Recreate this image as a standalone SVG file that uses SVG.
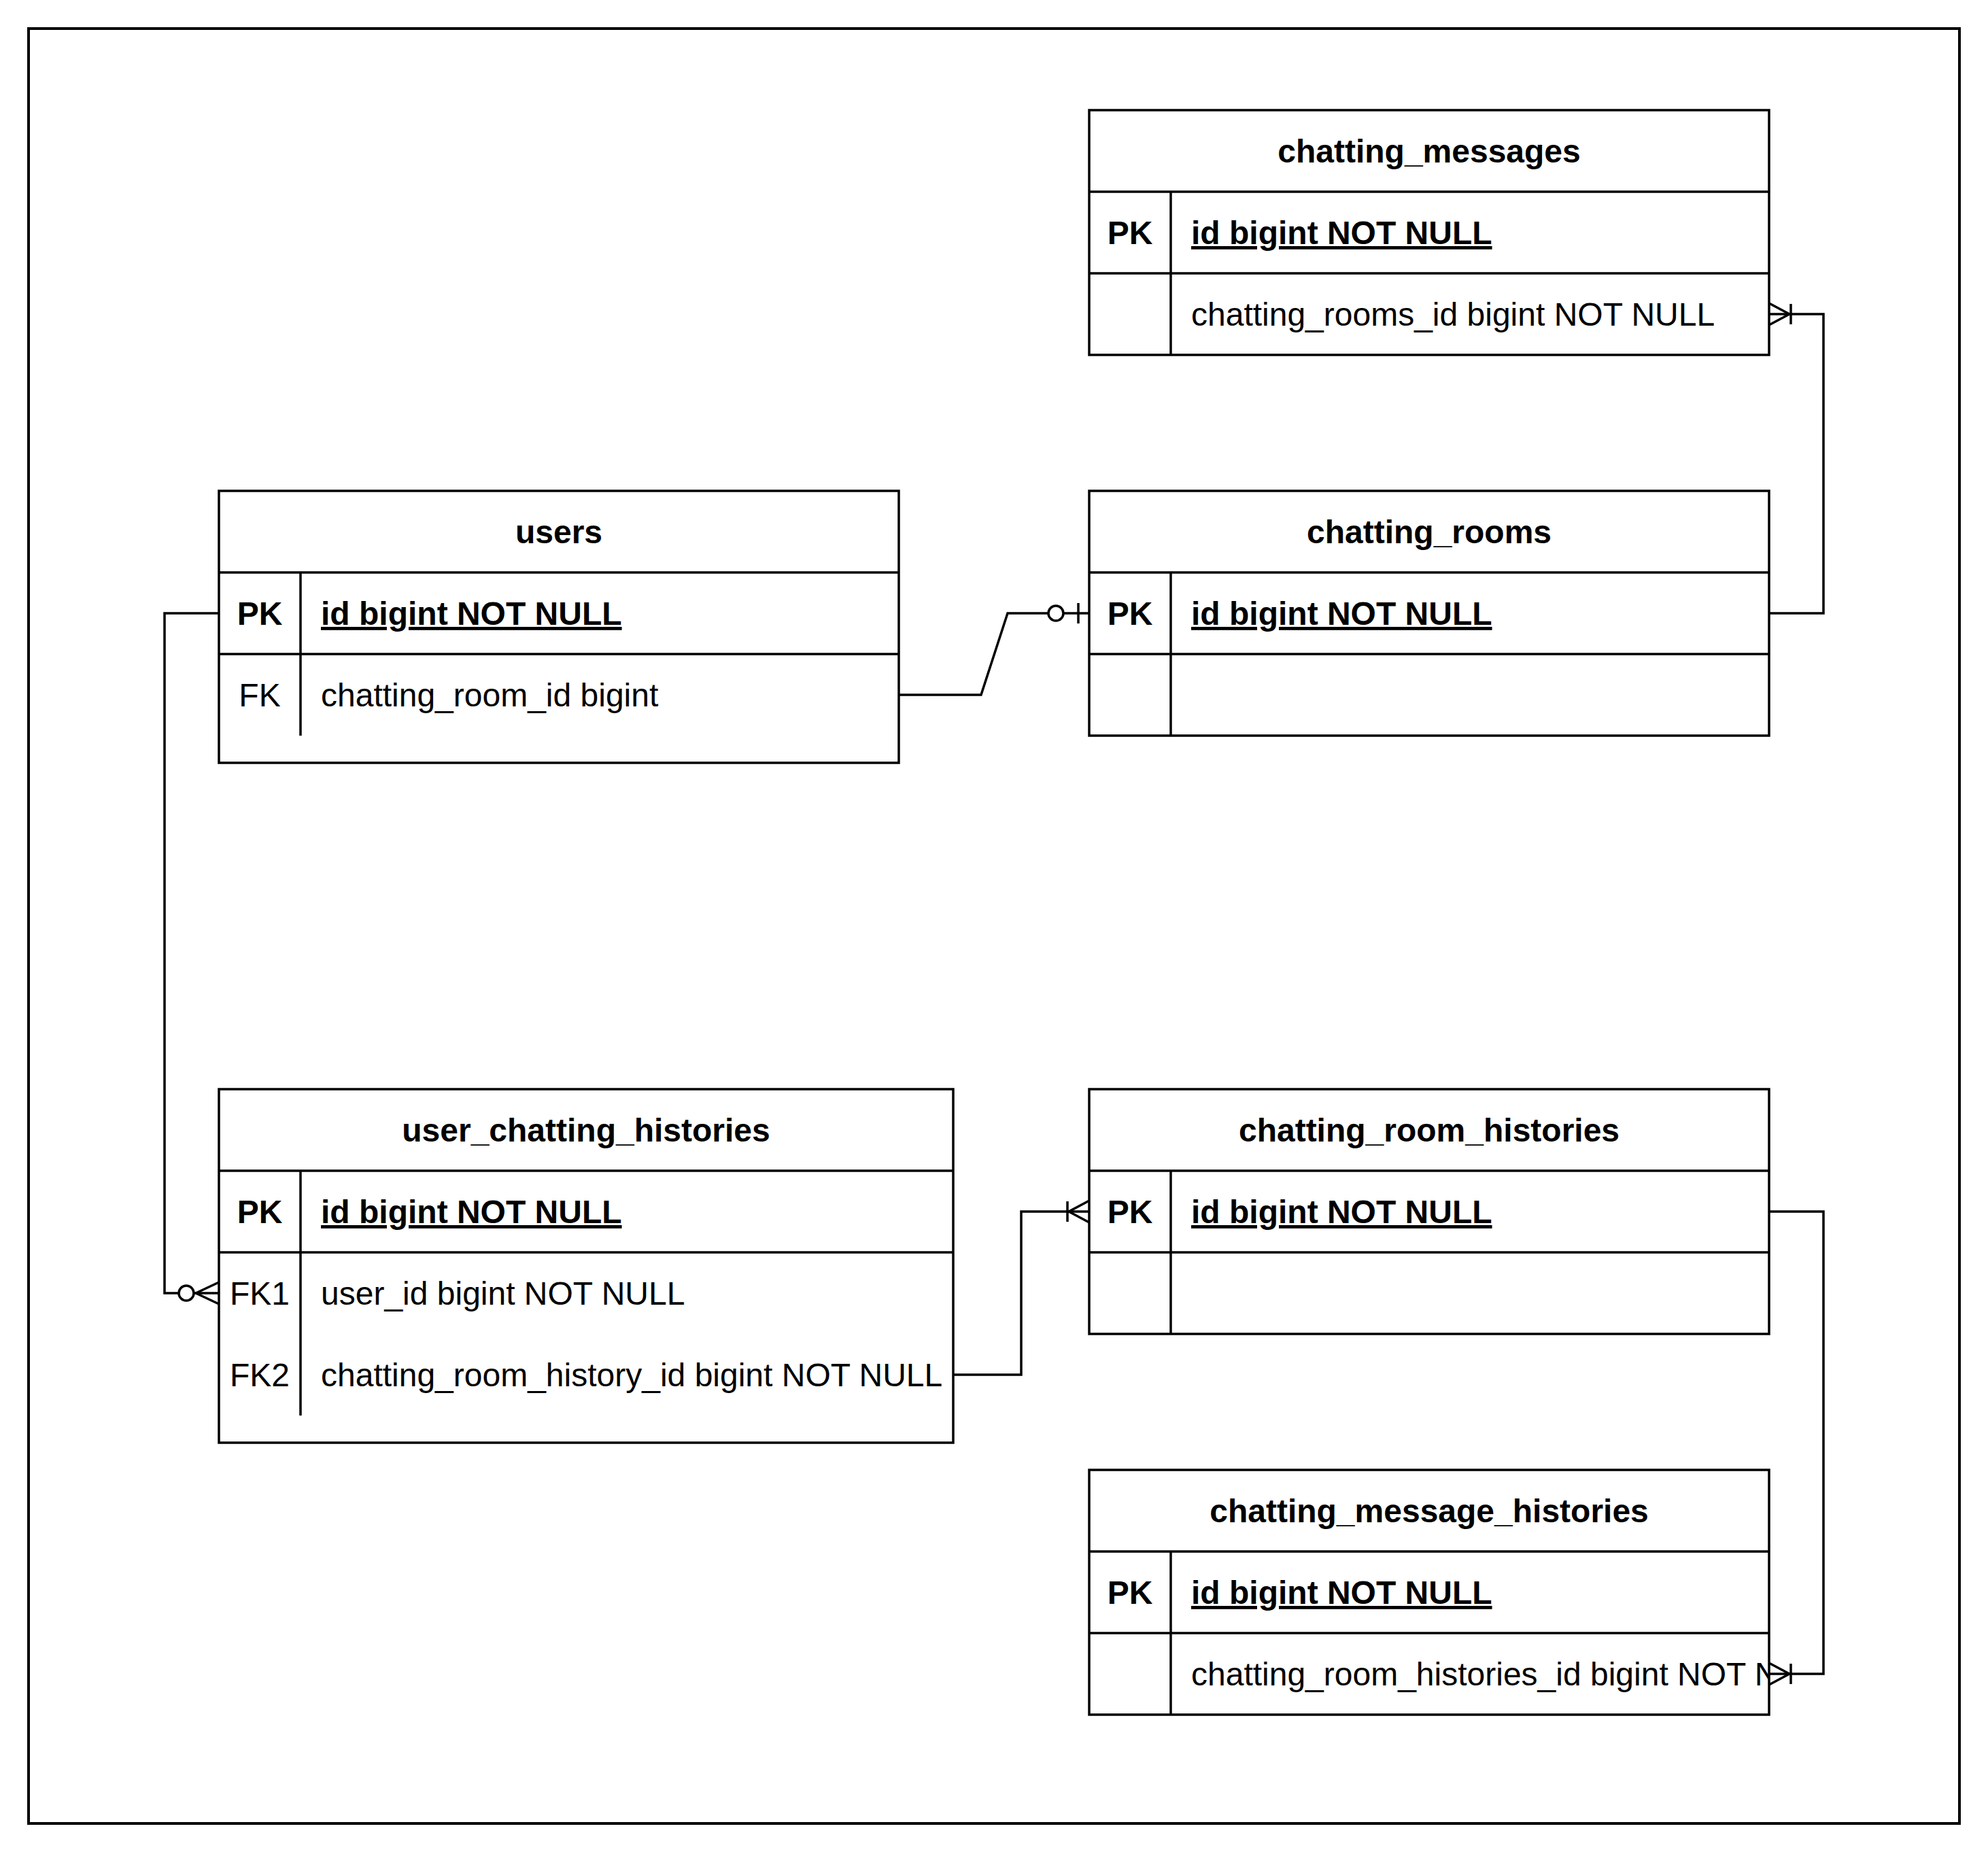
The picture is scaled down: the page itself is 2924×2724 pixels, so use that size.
<svg xmlns="http://www.w3.org/2000/svg" width="2924" height="2724" viewBox="0 0 2924 2724">
<style>
.frame{fill:none;stroke:#000;stroke-width:4}
.node rect{fill:#fff;stroke:#000;stroke-width:3.5}
.node line{stroke:#000;stroke-width:3.5}
.t{font-family:"Liberation Sans",Arial,Helvetica,sans-serif;font-size:48px;fill:#000}
.b{font-weight:bold}
.u{text-decoration:underline}
.c{text-anchor:middle}
.conn path{fill:none;stroke:#000;stroke-width:3.5}
.mk{fill:none;stroke:#000;stroke-width:3.5}
.mc{fill:#fff;stroke:#000;stroke-width:3.5}
</style>
<defs>
<marker id="oneMany" markerUnits="userSpaceOnUse" markerWidth="80" markerHeight="80" refX="0" refY="0" orient="auto" overflow="visible">
<path class="mk" d="M-30 0 L0 -16 M-30 0 L0 16 M-32 -15 V15"/>
</marker>
<marker id="zeroOne" markerUnits="userSpaceOnUse" markerWidth="80" markerHeight="80" refX="0" refY="0" orient="auto" overflow="visible">
<circle class="mc" cx="-49" cy="0" r="11"/>
<path class="mk" d="M-16 -15 V15"/>
</marker>
<marker id="zeroMany" markerUnits="userSpaceOnUse" markerWidth="80" markerHeight="80" refX="0" refY="0" orient="auto" overflow="visible">
<path class="mk" d="M-34 0 L0 -16 M-34 0 L0 16"/>
<circle class="mc" cx="-48" cy="0" r="11"/>
</marker>
<clipPath id="cmhClip"><rect x="1722" y="2402" width="880" height="120"/></clipPath>
</defs>
<rect width="2924" height="2724" fill="#fff"/>
<rect class="frame" x="42" y="42" width="2840" height="2640"/>

<g id="chatting_messages" class="node">
<rect x="1602" y="162" width="1000" height="360"/>
<line x1="1602" y1="282" x2="2602" y2="282"/>
<line x1="1602" y1="402" x2="2602" y2="402"/>
<line x1="1722" y1="282" x2="1722" y2="522"/>
<text class="t b c" x="2102" y="239">chatting_messages</text>
<text class="t b c" x="1662" y="359">PK</text>
<text class="t b u" x="1752" y="359">id bigint NOT NULL</text>
<text class="t" x="1752" y="479">chatting_rooms_id bigint NOT NULL</text>
</g>

<g id="users" class="node">
<rect x="322" y="722" width="1000" height="400"/>
<line x1="322" y1="842" x2="1322" y2="842"/>
<line x1="322" y1="962" x2="1322" y2="962"/>
<line x1="442" y1="842" x2="442" y2="1082"/>
<text class="t b c" x="822" y="799">users</text>
<text class="t b c" x="382" y="919">PK</text>
<text class="t b u" x="472" y="919">id bigint NOT NULL</text>
<text class="t c" x="382" y="1039">FK</text>
<text class="t" x="472" y="1039">chatting_room_id bigint</text>
</g>

<g id="chatting_rooms" class="node">
<rect x="1602" y="722" width="1000" height="360"/>
<line x1="1602" y1="842" x2="2602" y2="842"/>
<line x1="1602" y1="962" x2="2602" y2="962"/>
<line x1="1722" y1="842" x2="1722" y2="1082"/>
<text class="t b c" x="2102" y="799">chatting_rooms</text>
<text class="t b c" x="1662" y="919">PK</text>
<text class="t b u" x="1752" y="919">id bigint NOT NULL</text>
</g>

<g id="user_chatting_histories" class="node">
<rect x="322" y="1602" width="1080" height="520"/>
<line x1="322" y1="1722" x2="1402" y2="1722"/>
<line x1="322" y1="1842" x2="1402" y2="1842"/>
<line x1="442" y1="1722" x2="442" y2="2082"/>
<text class="t b c" x="862" y="1679">user_chatting_histories</text>
<text class="t b c" x="382" y="1799">PK</text>
<text class="t b u" x="472" y="1799">id bigint NOT NULL</text>
<text class="t c" x="382" y="1919">FK1</text>
<text class="t" x="472" y="1919">user_id bigint NOT NULL</text>
<text class="t c" x="382" y="2039">FK2</text>
<text class="t" x="472" y="2039">chatting_room_history_id bigint NOT NULL</text>
</g>

<g id="chatting_room_histories" class="node">
<rect x="1602" y="1602" width="1000" height="360"/>
<line x1="1602" y1="1722" x2="2602" y2="1722"/>
<line x1="1602" y1="1842" x2="2602" y2="1842"/>
<line x1="1722" y1="1722" x2="1722" y2="1962"/>
<text class="t b c" x="2102" y="1679">chatting_room_histories</text>
<text class="t b c" x="1662" y="1799">PK</text>
<text class="t b u" x="1752" y="1799">id bigint NOT NULL</text>
</g>

<g id="chatting_message_histories" class="node">
<rect x="1602" y="2162" width="1000" height="360"/>
<line x1="1602" y1="2282" x2="2602" y2="2282"/>
<line x1="1602" y1="2402" x2="2602" y2="2402"/>
<line x1="1722" y1="2282" x2="1722" y2="2522"/>
<text class="t b c" x="2102" y="2239">chatting_message_histories</text>
<text class="t b c" x="1662" y="2359">PK</text>
<text class="t b u" x="1752" y="2359">id bigint NOT NULL</text>
<text class="t" x="1752" y="2479" clip-path="url(#cmhClip)">chatting_room_histories_id bigint NOT N</text>
</g>

<g id="connectors" class="conn">
<path d="M2602 902 H2682 V462 H2602" marker-end="url(#oneMany)"/>
<path d="M1322 1022 H1443 L1482 902 H1602" marker-end="url(#zeroOne)"/>
<path d="M322 902 H242 V1902 H322" marker-end="url(#zeroMany)"/>
<path d="M1402 2022 H1502 V1782 H1602" marker-end="url(#oneMany)"/>
<path d="M2602 1782 H2682 V2462 H2602" marker-end="url(#oneMany)"/>
</g>
</svg>
